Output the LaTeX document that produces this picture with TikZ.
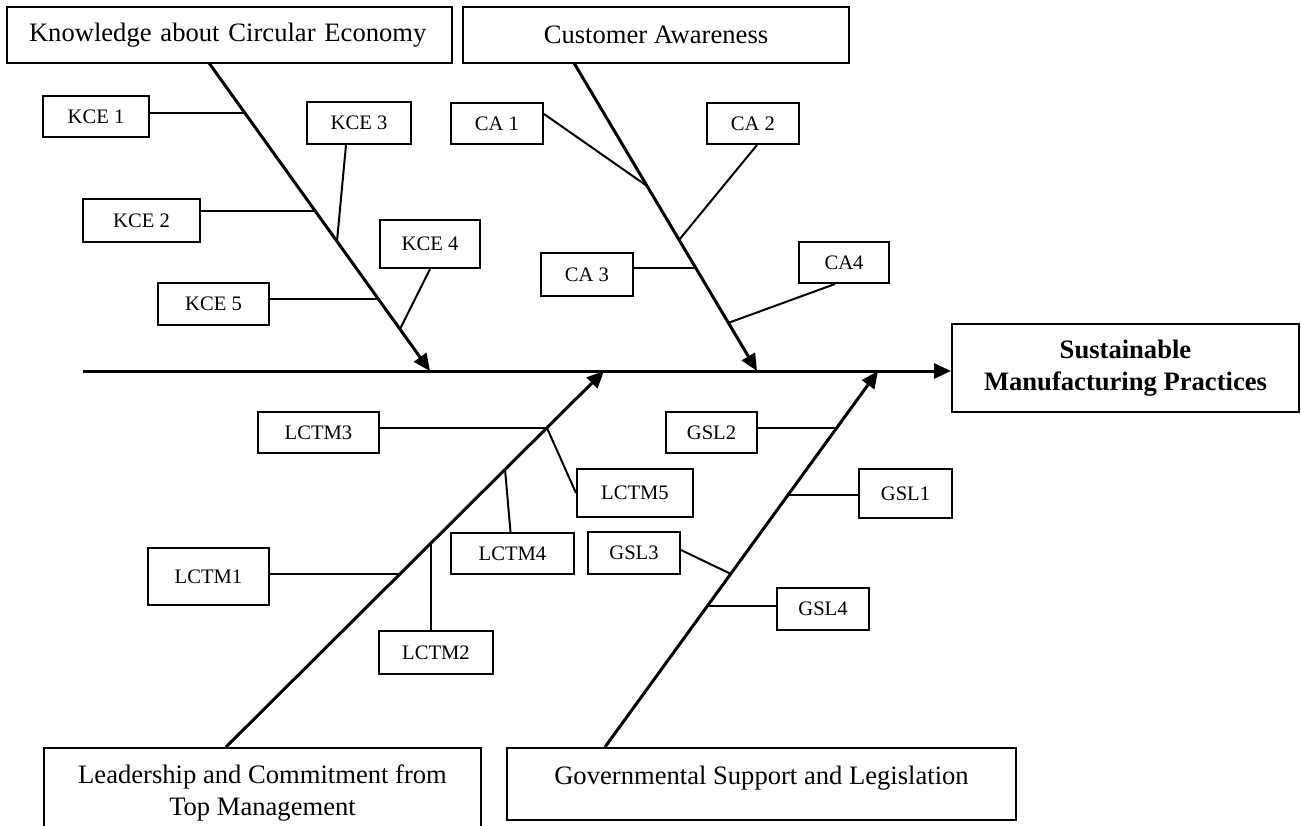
\documentclass[tikz,border=0pt]{standalone}
\usepackage{fontspec}
\setmainfont{Liberation Serif}
\usetikzlibrary{arrows.meta}
\begin{document}
\begin{tikzpicture}[x=0.5pt,y=-0.5pt,
  bigbox/.style={draw,line width=1pt,font=\fontsize{13.3}{15.7}\selectfont,inner sep=0pt,align=center},
  smallbox/.style={draw,line width=1pt,font=\fontsize{10.3}{12}\selectfont,inner sep=1pt},
  arr/.style={line width=1.5pt,-{Triangle[length=8.5pt,width=7.5pt]}},
  twig/.style={line width=1pt}]
\useasboundingbox (0,0) rectangle (1301,825);
\clip (0,0) rectangle (1301,825);

% category boxes
\node[bigbox,minimum height=28pt,inner xsep=11pt,text width=200.5pt,align=left] (kce) at (229.5,35) {Knowledge about Circular Economy};
\node[bigbox,minimum width=193pt,minimum height=28pt] (ca) at (656,35) {Customer Awareness};
\node[bigbox,minimum width=173.5pt,minimum height=44pt,font=\bfseries\fontsize{13.3}{16}\selectfont] (smp) at (1125.5,368) {Sustainable\\Manufacturing Practices};
\node[bigbox,anchor=north,minimum width=218.5pt,inner ysep=8.5pt] (lctm) at (262.5,747) {Leadership and Commitment from\\Top Management};
\node[bigbox,anchor=north,minimum width=254.5pt,inner ysep=0pt,text height=18pt,text depth=18pt] (gsl) at (761.5,747) {Governmental Support and Legislation};

% small boxes
\node[smallbox,minimum width=53pt,minimum height=20.5pt] (kce1) at (96,116.5) {KCE 1};
\node[smallbox,minimum width=58.5pt,minimum height=21.5pt] (kce2) at (141.5,220.5) {KCE 2};
\node[smallbox,minimum width=52pt,minimum height=21pt] (kce3) at (359,123) {KCE 3};
\node[smallbox,minimum width=50pt,minimum height=24pt] (kce4) at (430,244) {KCE 4};
\node[smallbox,minimum width=55.5pt,minimum height=21pt] (kce5) at (213.5,304) {KCE 5};
\node[smallbox,minimum width=46pt,minimum height=20.5pt] (ca1) at (497,123.5) {CA 1};
\node[smallbox,minimum width=46pt,minimum height=20.5pt] (ca2) at (753,123.5) {CA 2};
\node[smallbox,minimum width=46pt,minimum height=21.5pt] (ca3) at (587,274.5) {CA 3};
\node[smallbox,minimum width=45pt,minimum height=20.5pt] (ca4) at (844,262.5) {CA4};
\node[smallbox,minimum width=60.5pt,minimum height=20.5pt] (lctm3) at (318.5,432.5) {LCTM3};
\node[smallbox,minimum width=58pt,minimum height=24pt] (lctm5) at (635,493) {LCTM5};
\node[smallbox,minimum width=61.5pt,minimum height=20.5pt] (lctm4) at (512.5,553.5) {LCTM4};
\node[smallbox,minimum width=60.5pt,minimum height=28.5pt] (lctm1) at (208.5,576.5) {LCTM1};
\node[smallbox,minimum width=57pt,minimum height=21.5pt] (lctm2) at (436,652.5) {LCTM2};
\node[smallbox,minimum width=45.5pt,minimum height=20.5pt] (gsl2) at (711.5,432.5) {GSL2};
\node[smallbox,minimum width=46.5pt,minimum height=24.5pt] (gsl1) at (905.5,493.5) {GSL1};
\node[smallbox,minimum width=46pt,minimum height=21pt] (gsl3) at (634,553) {GSL3};
\node[smallbox,minimum width=46pt,minimum height=21pt] (gsl4) at (823,609) {GSL4};

% main bones
\coordinate (sp) at (83,371);
\coordinate (kceTop) at (209,63);
\coordinate (kceTip) at (430,371);
\coordinate (caTop) at (574,63);
\coordinate (caTip) at (757,371);
\coordinate (lctmBot) at (226,747);
\coordinate (lctmTip) at (604,371);
\coordinate (gslBot) at (605,747);
\coordinate (gslTip) at (878,371);
\draw[arr] (sp) -- (sp -| smp.west);
\draw[arr] (kceTop) -- (kceTip);
\draw[arr] (caTop) -- (caTip);
\draw[arr] (lctmBot) -- (lctmTip);
\draw[arr] (gslBot) -- (gslTip);

% junctions
\coordinate (jk1) at (245,113);
\coordinate (jk2) at (315,211);
\coordinate (jk3) at (337,241);
\coordinate (jk4) at (400,329);
\coordinate (jk5) at (378,299);
\coordinate (jc1) at (647,186);
\coordinate (jc2) at (679,240);
\coordinate (jc3) at (696,268);
\coordinate (jc4) at (728,323);
\coordinate (jl3) at (547,428);
\coordinate (jl4) at (505,469);
\coordinate (jl2) at (431,543);
\coordinate (jl1) at (400,574);
\coordinate (jg2) at (837,428);
\coordinate (jg1) at (788,495);
\coordinate (jg3) at (731,574);
\coordinate (jg4) at (707,606);

% sub-causes
\draw[twig] (kce1.east |- jk1) -- (jk1);
\draw[twig] (kce2.east |- jk2) -- (jk2);
\draw[twig] ([xshift=20pt]kce3.south west) -- (jk3);
\draw[twig] (kce4.south) -- (jk4);
\draw[twig] (kce5.east |- jk5) -- (jk5);
\draw[twig] ([yshift=-6pt]ca1.north east) -- (jc1);
\draw[twig] ([xshift=2pt]ca2.south) -- (jc2);
\draw[twig] (ca3.east |- jc3) -- (jc3);
\draw[twig] ([xshift=-4.5pt]ca4.south) -- (jc4);
\draw[twig] (lctm3.east |- jl3) -- (jl3);
\draw[twig] (jl3) -- (lctm5.west);
\draw[twig] ([xshift=-1pt]lctm4.north) -- (jl4);
\draw[twig] (lctm1.east |- jl1) -- (jl1);
\draw[twig] (jl2 |- lctm2.north) -- (jl2);
\draw[twig] (gsl2.east |- jg2) -- (jg2);
\draw[twig] (gsl1.west |- jg1) -- (jg1);
\draw[twig] ([yshift=1.5pt]gsl3.east) -- (jg3);
\draw[twig] (gsl4.west |- jg4) -- (jg4);
\end{tikzpicture}
\end{document}
